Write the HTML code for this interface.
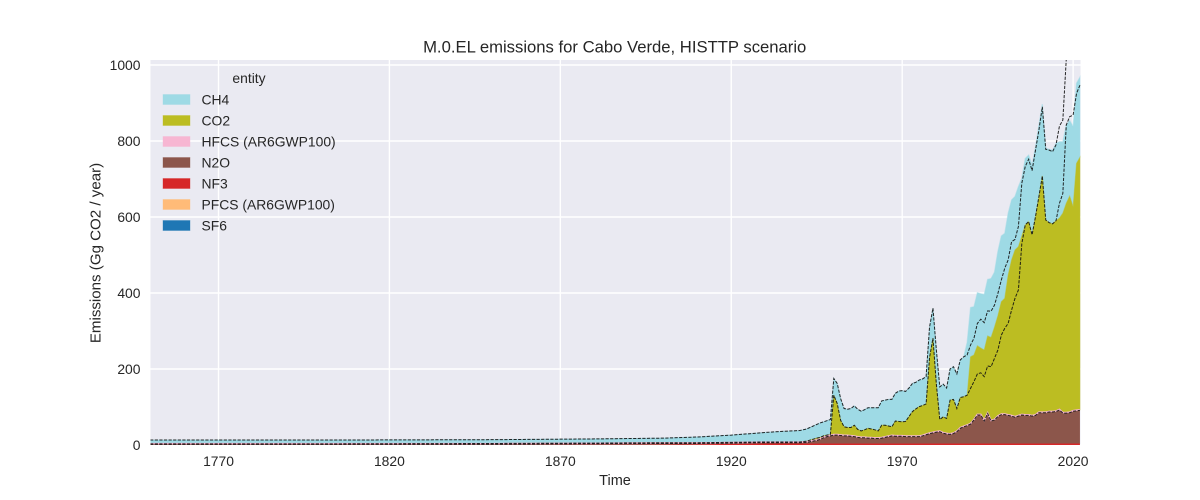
<!DOCTYPE html>
<html lang="en">
<head>
<meta charset="utf-8">
<title>M.0.EL emissions for Cabo Verde, HISTTP scenario</title>
<style>
html,body{margin:0;padding:0;background:#fff;width:1200px;height:500px;overflow:hidden}
svg{display:block}
text{font-family:"Liberation Sans",sans-serif;fill:#262626}
</style>
</head>
<body>
<svg id="chart" xmlns="http://www.w3.org/2000/svg" width="1200" height="500" viewBox="0 0 1200 500">
  <rect x="150.5" y="60" width="930" height="385" fill="#eaeaf2"/>
  <defs><clipPath id="plot-clip"><rect x="150.5" y="60" width="930" height="385"/></clipPath></defs>
  <g id="grid"></g>
  <g id="areas" clip-path="url(#plot-clip)"></g>
  <g id="lines" clip-path="url(#plot-clip)"></g>
  <g id="ticks"></g>
  <text x="614.7" y="52.5" font-size="16.67" text-anchor="middle">M.0.EL emissions for Cabo Verde, HISTTP scenario</text>
  <text x="615" y="485" font-size="14.5" text-anchor="middle">Time</text>
  <text transform="translate(100.5,253) rotate(-90)" font-size="15.1" text-anchor="middle">Emissions (Gg CO2 / year)</text>
  <g id="legend">
    <text x="249" y="83" font-size="13.89" text-anchor="middle">entity</text>
  </g>
</svg>
<script>
const years = [1750,1800,1850,1880,1900,1910,1920,1930,1935,1940,1942,1945,1946,1947,1948,1949,
1950,1951,1952,1953,1954,1955,1956,1957,1958,1959,1960,1961,1962,1963,1964,1965,1966,1967,1968,1969,
1970,1971,1972,1973,1974,1975,1976,1977,1978,1979,1980,1981,1982,1983,1984,1985,1986,1987,1988,1989,
1990,1991,1992,1993,1994,1995,1996,1997,1998,1999,2000,2001,2002,2003,2004,2005,2006,2007,2008,2009,
2010,2011,2012,2013,2014,2015,2016,2017,2018,2019,2020,2021,2022];

// Stack tops (Gg CO2 / year)
const ch4Top = [13,13,14,16,18,21,26,33,36,38,42,54,58,61,64,67,
175,162,122,96,94,96,103,94,89,93,98,98,98,98,116,118,120,120,136,142,
143,141,150,162,165,171,174,180,310,360,250,153,160,150,200,206,187,224,232,270,
362,364,401,398,396,436,438,455,510,550,557,610,645,654,680,702,754,763,737,785,
842,897,781,778,776,794,798,798,842,854,838,952,968];

const co2Top = [3,3,4,5,6,6,7,8,8,8,10,18,20,24,26,28,
131,109,65,48,46,46,52,41,37,40,44,42,40,37,52,52,50,48,63,62,
61,62,75,88,95,101,104,108,230,281,160,67,74,70,118,120,96,125,127,131,
232,237,261,255,250,287,283,310,340,377,386,447,487,513,522,550,579,588,553,601,
654,708,592,585,582,590,597,610,636,655,627,741,757];

const n2oTop = [2,2,2,3,4,4,5,6,6,6,7,12,15,19,22,24,
26,26,25,24,24,23,22,20,19,19,18,18,17,17,18,20,22,24,23,23,
23,22,22,22,22,22,24,27,30,32,34,35,31,29,28,30,35,44,48,51,
55,66,79,79,63,83,63,66,75,80,80,78,76,73,76,79,78,78,76,78,
85,85,85,87,87,88,92,84,84,85,89,90,91];

const hfcsThickness = 1.5;
const nf3Top = [0,0,0,0.5,1,1.5,3,4,4,4,4,4,4,4,4,4,
4,4,4,4,4,4,4,4,4,4,4,4,4,4,4,4,4,4,4,4,
4,4,4,4,4,4,4,4,4,4,4,4,4,4,4,4,4,4,4,4,
4,4,4,4,4,4,4,4,4,4,4,4,4,4,4,4,4,4,4,4,
4,4,4,4,4,4,4,4,4,4,4,4,4];

// Historical dashed series differ from the scenario after 1987
const histYears = [1988,1989,1990,1991,1992,1993,1994,1995,1996,1997,1998,1999,2000,2001,2002,2003,2004,2005,
2006,2007,2008,2009,2010,2011,2012,2013,2014,2015,2016,2017,2018,2019,2020,2021,2022];
const ch4Hist = [232,237,263,281,320,331,322,353,352,368,399,434,465,487,535,541,575,689,
733,752,722,776,829,890,778,776,772,790,839,855,1015,1300,1350,1400,1450];
const co2Hist = [127,131,149,167,187,190,180,208,206,228,250,289,307,320,355,386,408,530,
579,588,553,601,654,708,592,585,582,590,636,662,842,864,868,925,947];

const xTicks = [1770,1820,1870,1920,1970,2020];
const yTicks = [0,200,400,600,800,1000];
const legendLabels = ["CH4","CO2","HFCS (AR6GWP100)","N2O","NF3","PFCS (AR6GWP100)","SF6"];
const legendColors = ["#9edae5","#bcbd22","#f7b6d2","#8c564b","#d62728","#ffbb78","#1f77b4"];

const NS = "http://www.w3.org/2000/svg";
const xScale = y => 218.5 + (y - 1770) * 3.4184;
const yScale = v => 445 - v * 0.38;

function make(tag, attrs, parent) {
  const el = document.createElementNS(NS, tag);
  for (const k in attrs) el.setAttribute(k, attrs[k]);
  parent.appendChild(el);
  return el;
}
function linePath(xs, vs) {
  return xs.map((x, i) => (i ? "L" : "M") + xScale(x).toFixed(2) + " " + yScale(vs[i]).toFixed(2)).join("");
}
function bandPath(xs, upper, lower) {
  let d = linePath(xs, upper);
  for (let i = xs.length - 1; i >= 0; i--) d += "L" + xScale(xs[i]).toFixed(2) + " " + yScale(lower[i]).toFixed(2);
  return d + "Z";
}
function histSeries(base, hist) {
  return years.map((y, i) => {
    const j = histYears.indexOf(y);
    return j >= 0 ? hist[j] : base[i];
  });
}

const gridG = document.getElementById("grid");
const tickG = document.getElementById("ticks");
xTicks.forEach(t => {
  const ln = make("line", {x1: xScale(t), x2: xScale(t), y1: 60, y2: 445, stroke: "#fff", "stroke-width": 1.4}, gridG);
  
  
  const tx = make("text", {x: xScale(t), y: 466, "font-size": 13.89, "text-anchor": "middle"}, tickG);
  
  
  tx.textContent = t;
});
yTicks.forEach(t => {
  const ln = make("line", {x1: 150.5, x2: 1080.5, y1: yScale(t), y2: yScale(t), stroke: "#fff", "stroke-width": 1.4}, gridG);
  
  
  const tx = make("text", {x: 140.5, y: yScale(t) + 5, "font-size": 13.89, "text-anchor": "end"}, tickG);
  
  
  tx.textContent = t;
});

const zero = years.map(() => 0);
const hfcsTop = n2oTop.map(v => v + hfcsThickness);
const areasG = document.getElementById("areas");

const areaCh4 = make("path", {d: bandPath(years, ch4Top, co2Top), fill: "#9edae5", stroke: "#9edae5", "stroke-opacity": 0.5, "stroke-width": 1.2}, areasG);


const areaCo2 = make("path", {d: bandPath(years, co2Top, hfcsTop), fill: "#bcbd22", stroke: "#bcbd22", "stroke-opacity": 0.5, "stroke-width": 1}, areasG);


const areaN2o = make("path", {d: bandPath(years, n2oTop, nf3Top), fill: "#8c564b"}, areasG);


const areaHfcs = make("path", {d: linePath(years, hfcsTop), fill: "none", stroke: "#f7b6d2", "stroke-width": 1.6}, areasG);


const areaNf3 = make("path", {d: bandPath(years, nf3Top, zero), fill: "#d62728"}, areasG);



const linesG = document.getElementById("lines");
const dashStyle = {fill: "none", stroke: "#111", "stroke-width": 1, "stroke-dasharray": "3.2,1.4", "stroke-opacity": 0.9};

const lineCh4 = make("path", Object.assign({d: linePath(years, histSeries(ch4Top, ch4Hist))}, dashStyle), linesG);


const lineCo2 = make("path", Object.assign({d: linePath(years, histSeries(co2Top, co2Hist))}, dashStyle), linesG);


const lineN2o = make("path", Object.assign({d: linePath(years, n2oTop)}, dashStyle), linesG);



const legendG = document.getElementById("legend");
legendLabels.forEach((label, i) => {
  const cy = 99.5 + i * 21;
  const sw = make("rect", {x: 163, y: cy - 5, width: 27, height: 10, fill: legendColors[i], stroke: legendColors[i], "stroke-opacity": 0.5, "stroke-width": 0.7}, legendG);
  
  
  const tx = make("text", {x: 201.5, y: cy + 4.8, "font-size": 13.89}, legendG);
  
  
  tx.textContent = label;
});
</script>
</body>
</html>
